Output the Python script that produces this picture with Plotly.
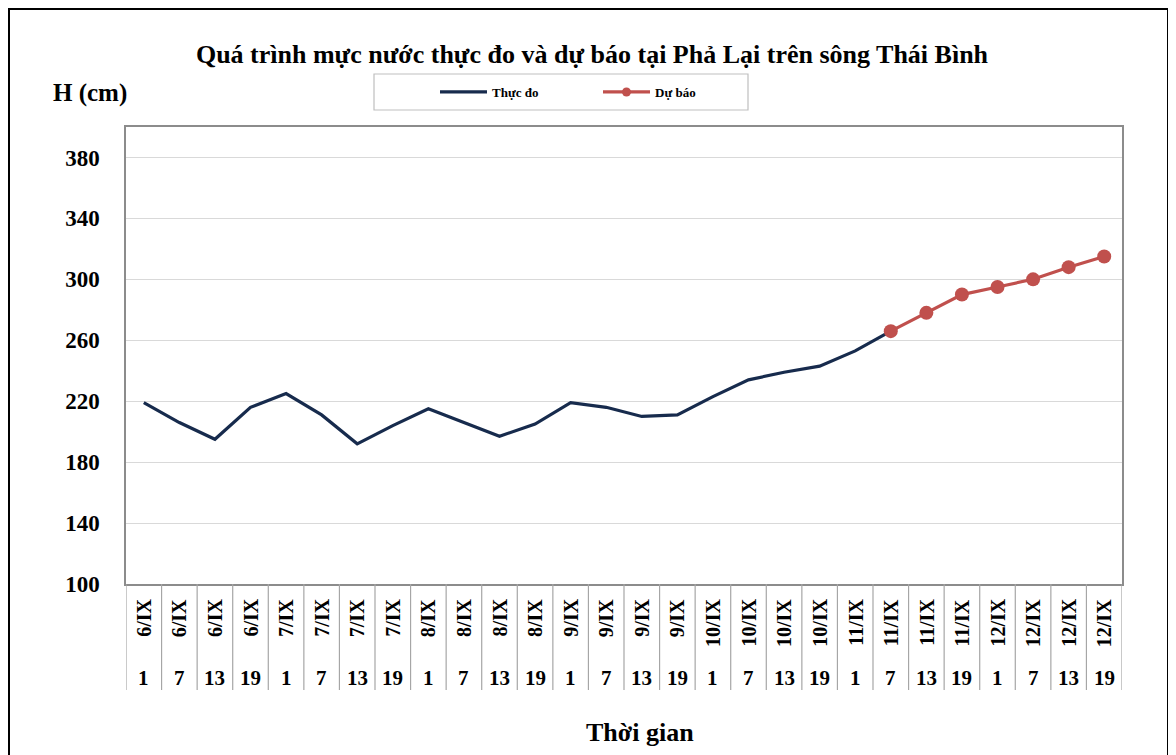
import plotly.graph_objects as go

# ---- data ----
date_labels = ["6/IX", "6/IX", "6/IX", "6/IX", "7/IX", "7/IX", "7/IX", "7/IX",
               "8/IX", "8/IX", "8/IX", "8/IX", "9/IX", "9/IX", "9/IX", "9/IX",
               "10/IX", "10/IX", "10/IX", "10/IX", "11/IX", "11/IX", "11/IX", "11/IX",
               "12/IX", "12/IX", "12/IX", "12/IX"]
hour_labels = ["1", "7", "13", "19", "1", "7", "13", "19", "1", "7", "13", "19",
               "1", "7", "13", "19", "1", "7", "13", "19", "1", "7", "13", "19",
               "1", "7", "13", "19"]
observed = [219, 206, 195, 216, 225, 211, 192, 204, 215, 206, 197, 205,
            219, 216, 210, 211, 223, 234, 239, 243, 253, 266]
forecast = [266, 278, 290, 295, 300, 308, 315]
forecast_start = 21
y_ticks = [100, 140, 180, 220, 260, 300, 340, 380]

FONT = "Liberation Serif"
NAVY = "#172B4D"
RED = "#C0504D"

OFF = 8                     # page body margin
W, H = 1168, 747            # figure size
PL, PR, PT, PB = 126, 1122, 127, 584   # plot area in page pixels
L = PL - OFF
R = W - (PR - OFF)
T = PT - OFF
B = H - (PB - OFF)


def px_x(px):
    return (px - PL) / (PR - PL)


def px_y(py):
    return (PB - py) / (PB - PT)


n = len(date_labels)
x_obs = list(range(len(observed)))
x_fc = list(range(forecast_start, forecast_start + len(forecast)))

fig = go.Figure()
fig.add_trace(go.Scatter(x=x_obs, y=observed, mode="lines", name="<b>Thực đo</b>",
                         line=dict(color=NAVY, width=3.2)))
fig.add_trace(go.Scatter(x=x_fc, y=forecast, mode="lines+markers", name="<b>Dự báo</b>",
                         line=dict(color=RED, width=3.2), showlegend=False,
                         marker=dict(color=RED, size=14)))
# legend-only entry with the smaller legend marker
fig.add_trace(go.Scatter(x=[None], y=[None], mode="lines+markers", name="<b>Dự báo</b>",
                         line=dict(color=RED, width=3.2),
                         marker=dict(color=RED, size=9)))

shapes = []
for i in range(n + 1):
    shapes.append(dict(type="line", xref="x", yref="paper", x0=i - 0.5, x1=i - 0.5,
                       y0=0, y1=px_y(690), line=dict(color="#A6A6A6", width=1.2)))
shapes.append(dict(type="rect", xref="paper", yref="paper",
                   x0=px_x(374), x1=px_x(748), y0=px_y(110), y1=px_y(74),
                   line=dict(color="#BFBFBF", width=1.2), fillcolor="white", layer="below"))
shapes.append(dict(type="rect", xref="paper", yref="paper",
                   x0=px_x(9), x1=px_x(1168), y0=px_y(800), y1=px_y(9),
                   line=dict(color="black", width=2)))

annotations = []
for i in range(n):
    annotations.append(dict(x=i, y=px_y(597), xref="x", yref="paper", text="<b>%s</b>" % date_labels[i],
                            textangle=-90, showarrow=False, yanchor="top", xanchor="center",
                            font=dict(family=FONT, size=20, color="black")))
    annotations.append(dict(x=i, y=px_y(678), xref="x", yref="paper", text="<b>%s</b>" % hour_labels[i],
                            showarrow=False, yanchor="middle", xanchor="center",
                            font=dict(family=FONT, size=21, color="black")))
annotations.append(dict(x=px_x(90), y=px_y(93), xref="paper", yref="paper", text="<b>H (cm)</b>",
                        showarrow=False, xanchor="center", yanchor="middle",
                        font=dict(family=FONT, size=25, color="black")))
annotations.append(dict(x=px_x(640), y=px_y(732), xref="paper", yref="paper", text="<b>Thời gian</b>",
                        showarrow=False, xanchor="center", yanchor="middle",
                        font=dict(family=FONT, size=26, color="black")))

fig.update_layout(
    width=W, height=H,
    margin=dict(l=L, r=R, t=T, b=B),
    paper_bgcolor="white", plot_bgcolor="white",
    title=dict(text="<b>Quá trình mực nước thực đo và dự báo tại Phả Lại trên sông Thái Bình</b>",
               x=(592 - OFF) / W, xanchor="center", y=1 - (54 - OFF) / H, yanchor="middle",
               font=dict(family=FONT, size=26, color="black")),
    showlegend=True,
    legend=dict(orientation="h", x=px_x(374), y=px_y(92), xanchor="left", yanchor="middle",
                bgcolor="rgba(0,0,0,0)", borderwidth=0, indentation=61,
                entrywidth=40, itemwidth=47,
                font=dict(family=FONT, size=13, color="black")),
    xaxis=dict(range=[-0.5, n - 0.5], showticklabels=False, showgrid=False, zeroline=False,
               showline=True, linecolor="#8C8C8C", linewidth=1.5, mirror=True, ticks=""),
    yaxis=dict(range=[100, 400], tickvals=y_ticks, ticktext=["<b>%d</b>" % v for v in y_ticks],
               showgrid=True, gridcolor="#D9D9D9", gridwidth=1.2, zeroline=False,
               showline=True, linecolor="#8C8C8C", linewidth=1.5, mirror=True, ticks="",
               ticklabelstandoff=20,
               tickfont=dict(family=FONT, size=23, color="black")),
    shapes=shapes,
    annotations=annotations,
)

fig.write_html("out.html")
